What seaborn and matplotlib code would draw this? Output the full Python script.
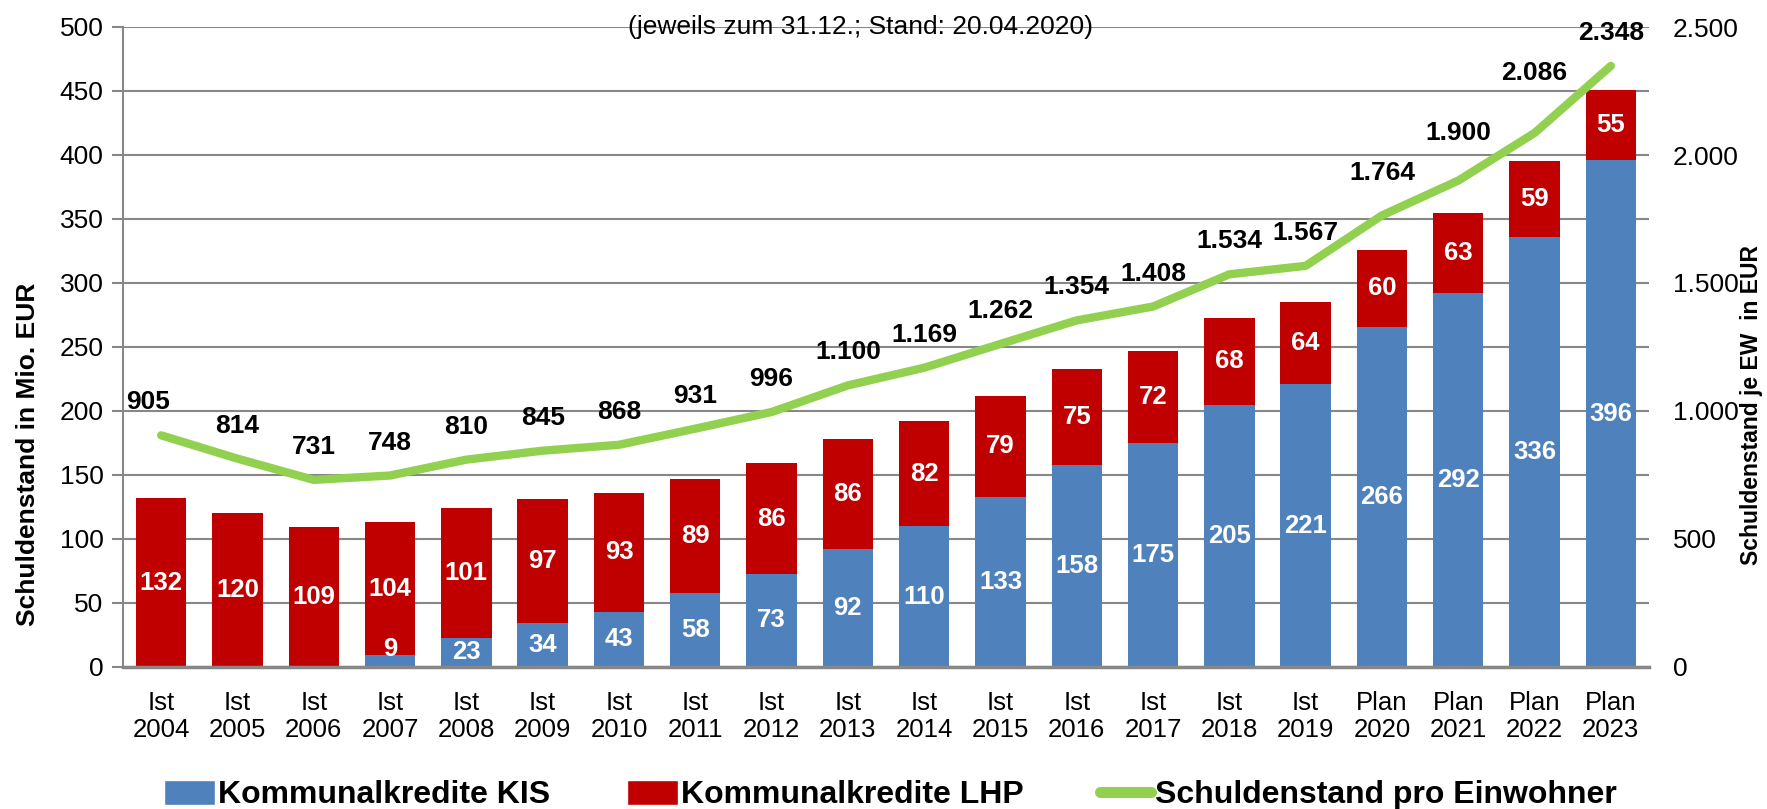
import numpy as np
import pandas as pd
import seaborn as sns
import matplotlib.pyplot as plt
from matplotlib.patches import Patch
from matplotlib.lines import Line2D

# Data (Mio. EUR, EUR je Einwohner)
kategorien = ["Ist\n2004", "Ist\n2005", "Ist\n2006", "Ist\n2007", "Ist\n2008",
              "Ist\n2009", "Ist\n2010", "Ist\n2011", "Ist\n2012", "Ist\n2013",
              "Ist\n2014", "Ist\n2015", "Ist\n2016", "Ist\n2017", "Ist\n2018",
              "Ist\n2019", "Plan\n2020", "Plan\n2021", "Plan\n2022", "Plan\n2023"]
kis = [0, 0, 0, 9, 23, 34, 43, 58, 73, 92, 110, 133, 158, 175, 205, 221, 266, 292, 336, 396]
lhp = [132, 120, 109, 104, 101, 97, 93, 89, 86, 86, 82, 79, 75, 72, 68, 64, 60, 63, 59, 55]
pro_ew = [905, 814, 731, 748, 810, 845, 868, 931, 996, 1100, 1169, 1262, 1354, 1408,
          1534, 1567, 1764, 1900, 2086, 2348]

untertitel = "(jeweils zum 31.12.; Stand: 20.04.2020)"
legende = ["Kommunalkredite KIS", "Kommunalkredite LHP", "Schuldenstand pro Einwohner"]

BLUE = "#4F81BD"
RED = "#C00000"
GREEN = "#92D050"
GRID = "#878787"

sns.set_style("white")
plt.rcParams["font.family"] = ["Liberation Sans", "DejaVu Sans"]
plt.rcParams["text.color"] = "black"
plt.rcParams["xtick.color"] = "black"
plt.rcParams["ytick.color"] = "black"
plt.rcParams["axes.labelcolor"] = "black"

df = pd.DataFrame({"kat": kategorien, "kis": kis, "lhp": lhp})
df["gesamt"] = df["kis"] + df["lhp"]
n = len(df)

W, H = 1767, 809
fig = plt.figure(figsize=(W / 100, H / 100), dpi=100)
ax = fig.add_axes([123 / W, 1 - 667 / H, (1649 - 123) / W, (667 - 27) / H])

# stacked bars: total in red, KIS in blue drawn over it
sns.barplot(data=df, x="kat", y="gesamt", color=RED, width=0.66, saturation=1,
            errorbar=None, ax=ax, linewidth=0)
sns.barplot(data=df, x="kat", y="kis", color=BLUE, width=0.66, saturation=1,
            errorbar=None, ax=ax, linewidth=0)

ax.set_ylim(0, 500)
ax.set_yticks(np.arange(0, 501, 50))
ax.set_axisbelow(True)
ax.yaxis.grid(True, color=GRID, lw=1.5)
ax.xaxis.grid(False)
for s in ["top", "right"]:
    ax.spines[s].set_visible(False)
ax.spines["left"].set_color(GRID)
ax.spines["left"].set_linewidth(1.5)
ax.spines["bottom"].set_color(GRID)
ax.spines["bottom"].set_linewidth(2.5)
ax.tick_params(axis="y", length=8, width=1.5, color=GRID, labelcolor="black",
               direction="out", labelsize=19, pad=6, left=True)
ax.tick_params(axis="x", length=0, labelsize=18.5, pad=17, labelcolor="black")
ax.set_xlabel("")
ax.set_ylabel("")

for i, row in df.iterrows():
    if row["kis"] > 0:
        y = row["kis"] / 2 if row["kis"] > 20 else 14
        ax.text(i, y, str(row["kis"]), ha="center", va="center", color="white",
                fontsize=18.5, fontweight="bold")
    ax.text(i, row["kis"] + row["lhp"] / 2, str(row["lhp"]), ha="center", va="center",
            color="white", fontsize=18.5, fontweight="bold")

# line on secondary axis
ax2 = ax.twinx()
sns.lineplot(x=np.arange(n), y=pro_ew, ax=ax2, color=GREEN, lw=6,
             solid_capstyle="round", solid_joinstyle="round", legend=False)
ax2.set_ylim(0, 2500)
ax2.set_yticks(np.arange(0, 2501, 500))
ax2.set_yticklabels([f"{v:,}".replace(",", ".") for v in range(0, 2501, 500)])
ax2.tick_params(axis="y", length=0, labelsize=19, pad=17, labelcolor="black")
ax2.grid(False)
for s in ax2.spines.values():
    s.set_visible(False)
ax2.set_xlabel("")
ax2.set_ylabel("")

nudge = {0: (-13, 33), 16: (0, 42), 17: (0, 48), 18: (0, 60)}
for i, v in enumerate(pro_ew):
    dx, dy = nudge.get(i, (0, 33))
    ax2.annotate(f"{v:,}".replace(",", "."), (i, v), xytext=(dx, dy),
                 textcoords="offset pixels", ha="center", va="center",
                 fontsize=19, fontweight="bold", color="black")

ax.set_xlim(-0.5, n - 0.5)
ax.set_xticks(range(n))
ax.set_xticklabels(kategorien)

# axis titles
fig.text(28 / W, 1 - 454 / H, "Schuldenstand in Mio. EUR", rotation=90,
         ha="center", va="center", fontsize=19, fontweight="bold", color="black")
fig.text(1751 / W, 1 - 405 / H, "Schuldenstand je EW  in EUR", rotation=90,
         ha="center", va="center", fontsize=16.5, fontweight="bold", color="black")

fig.text(860 / W, 1 - 27 / H, untertitel, ha="center", va="center", fontsize=19,
         color="black")

handles = [Patch(facecolor=BLUE), Patch(facecolor=RED),
           Line2D([], [], color=GREEN, lw=8, solid_capstyle="round")]
leg = fig.legend(handles, legende, loc="center", bbox_to_anchor=(890 / W, 1 - 795 / H),
                 ncol=3, frameon=False, prop={"size": 23, "weight": "bold"},
                 handlelength=1.6, handleheight=0.85, handletextpad=0.1,
                 columnspacing=2.4)
for t in leg.get_texts():
    t.set_color("black")

fig.savefig("out.png", dpi=100)
